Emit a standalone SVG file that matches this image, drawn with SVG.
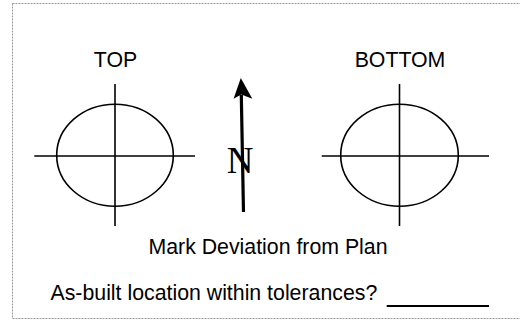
<svg xmlns="http://www.w3.org/2000/svg" width="520" height="320" viewBox="0 0 520 320">
<style>
.lbl{font-family:"Liberation Sans",Arial,sans-serif;font-size:21.3px;fill:#000}
.ln{stroke:#000;stroke-width:1.6;fill:none}
</style>
<rect x="0" y="0" width="520" height="320" fill="#fff"/>
<rect x="12.5" y="3.5" width="520" height="315" fill="none" stroke="#999" stroke-width="1" stroke-dasharray="2 1"/>
<g id="top">
<text class="lbl" x="115.5" y="66.5" text-anchor="middle">TOP</text>
<ellipse class="ln" cx="115" cy="155.2" rx="58.3" ry="51"/>
<line class="ln" x1="34.3" y1="156" x2="195" y2="156"/>
<line class="ln" x1="115" y1="84" x2="115" y2="226"/>
</g>
<g id="bottom">
<text class="lbl" x="400" y="66.5" text-anchor="middle">BOTTOM</text>
<ellipse class="ln" cx="399.5" cy="155.2" rx="58.8" ry="51"/>
<line class="ln" x1="321.7" y1="156" x2="489" y2="156"/>
<line class="ln" x1="399.5" y1="84" x2="399.5" y2="226"/>
</g>
<g id="north">
<text x="240" y="173" text-anchor="middle" style="font-family:'Liberation Serif','Times New Roman',serif;font-size:37px;fill:#000">N</text>
<line x1="243.5" y1="212" x2="241.3" y2="95" stroke="#000" stroke-width="3.2"/>
<polygon points="240.8,78 252.3,98.8 241.3,94.5 233.6,98.8" fill="#000"/>
</g>
<text class="lbl" x="268" y="254" text-anchor="middle">Mark Deviation from Plan</text>
<text class="lbl" x="50.5" y="300">As-built location within tolerances?</text>
<line x1="386.7" y1="306" x2="489" y2="306" stroke="#000" stroke-width="2"/>
</svg>
